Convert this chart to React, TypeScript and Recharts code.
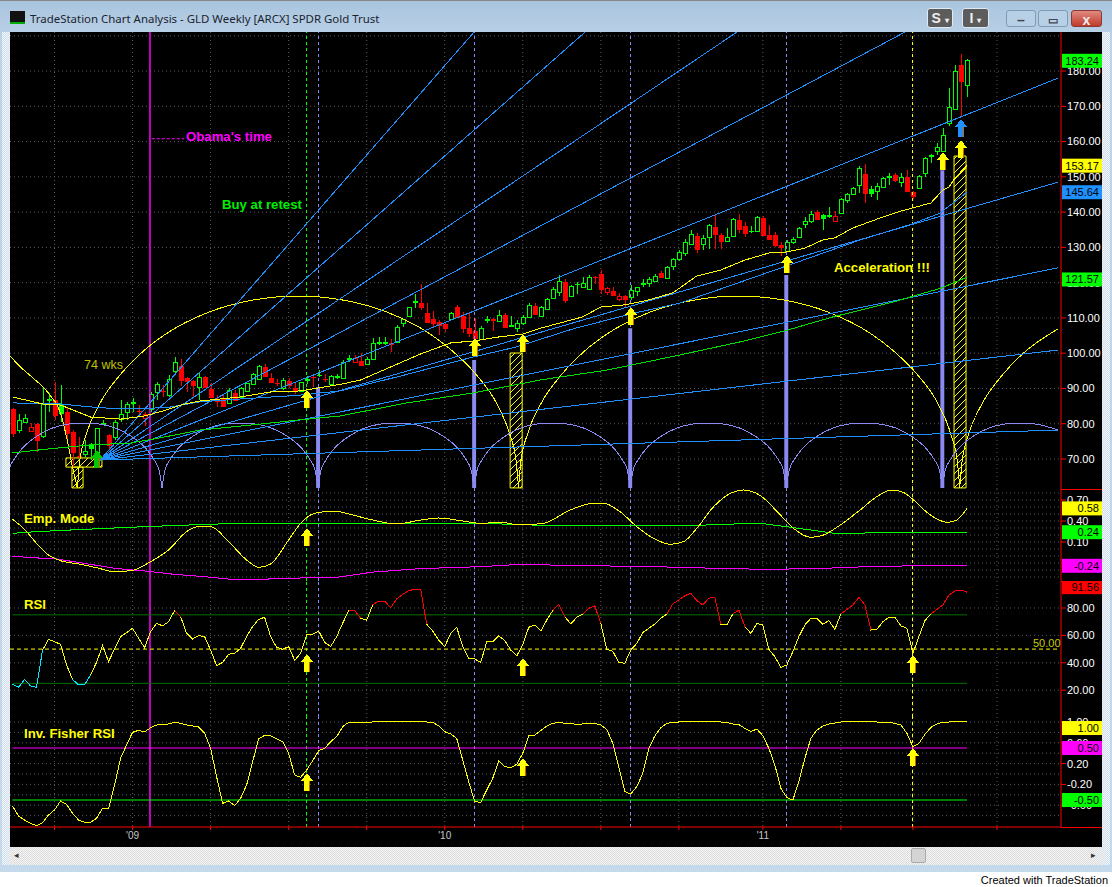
import { ComposedChart, Bar, Line, Scatter, XAxis, YAxis, CartesianGrid, ReferenceLine, ReferenceArea, ReferenceDot } from 'recharts';

// GLD weekly candles
const opens = [
  84.4, 78.2, 80.6, 77.9, 80.1, 76.6, 86.9, 86.9, 85.8, 83.6,
  77.8, 71.2, 71.3, 74.6, 71.1, 80.3, 77.1, 76.3, 81.2, 83.4,
  86.2, 83.8, 81.5, 84.1, 89.1, 89.6, 88.1, 95, 96.7, 93.3,
  92.4, 90.3, 93.5, 90.2, 86.8, 87.7, 86, 89.1, 87.5, 89.4,
  91.3, 92.8, 96.4, 93.2, 91.7, 90, 92.4, 90.3, 89.4, 92.5,
  93.6, 94, 92.9, 91.3, 93.4, 93.1, 98.6, 97.6, 98.1, 96.9,
  98.4, 103.2, 103.2, 103.3, 103.3, 108.7, 110.5, 114.6, 114.6, 111.6,
  109.9, 109.1, 108.5, 109.7, 113.4, 110.8, 107.3, 106.6, 104, 109.5,
  109.9, 109.2, 111.1, 108, 107.2, 108.7, 110.4, 113.7, 110.5, 112.5,
  115.6, 117.4, 120.5, 116.2, 119.8, 118.7, 118.2, 122, 122.6, 117.4,
  117.9, 115.5, 116.4, 115.8, 117.6, 119.7, 119.8, 120.6, 123.1, 121.2,
  124.7, 126.6, 128.3, 131, 133.5, 131, 132.9, 136.1, 133.8, 131.9,
  133.2, 138, 136.4, 135, 134.7, 138.7, 133.8, 133.8, 131, 129.1,
  131.5, 132.9, 136.6, 137.4, 140.3, 139.4, 139.1, 137.6, 139.8, 143.3,
  145, 147.6, 151.2, 146.7, 145.9, 147, 150.2, 150.8, 148.6, 150.2,
  146, 146.9, 151.2, 156.2, 157.4, 157.4, 165.4, 169.1, 182, 176,
];
const highs = [
  84.4, 82.8, 82.8, 80.1, 80.1, 90.5, 88.6, 91.9, 91, 84.8,
  78.2, 76.3, 75.4, 74.6, 78.7, 81.1, 77.1, 81.1, 86.7, 86.3,
  87.2, 85.3, 83.4, 89.1, 91.9, 91, 93.8, 98.8, 98.3, 93.3,
  92.4, 94.5, 93.5, 91.6, 88.1, 88.4, 90, 89.6, 90.3, 91.6,
  94.3, 96.7, 96.9, 94.5, 92.6, 92.9, 92.9, 91.6, 91.9, 93.6,
  93.7, 95.2, 94, 93.8, 94, 98, 99.5, 99.5, 100, 99,
  104.2, 104.5, 104.5, 103.9, 108, 109.6, 113, 116.8, 119.6, 114.1,
  112, 109.4, 108.5, 111.8, 113.7, 111.8, 111.3, 109.9, 107.7, 110.5,
  109.9, 112.2, 111.3, 110.5, 109.4, 110.8, 114.1, 114.1, 113.4, 115.6,
  118.9, 122.2, 120.9, 119.3, 120.3, 121.7, 122.2, 122, 123.6, 118.9,
  118.9, 117, 116.4, 119.3, 118.9, 120.9, 121.7, 122.5, 123.4, 124.7,
  126.9, 129.3, 132.3, 134.9, 134, 133.5, 136.6, 139.2, 134, 135.4,
  138.2, 139.5, 137.3, 136, 138.9, 138.9, 136.4, 134.5, 131.6, 132,
  132.9, 135.7, 138.7, 140.4, 140.6, 139.4, 141.4, 140.3, 143.9, 145.5,
  147, 153.1, 153.6, 147.4, 148.2, 149.9, 151, 151.2, 151, 152,
  146, 150.5, 155.5, 156.5, 159.5, 163.8, 175.1, 181.7, 184.8, 183.3,
];
const lows = [
  76.3, 77.5, 80.1, 77.8, 72.1, 75.9, 83.4, 81.1, 80.6, 75.6,
  67.8, 70.2, 70.7, 69.7, 68.8, 79.5, 72.6, 75.4, 80.6, 81,
  83.4, 82, 79.4, 83.4, 86.7, 87.5, 87.5, 93.8, 90.7, 89,
  87.5, 86.7, 90.3, 87.2, 84.8, 84.8, 85.8, 86.5, 87.2, 89.1,
  91, 92.6, 93.3, 91.8, 90.7, 89.6, 90, 88.4, 89.1, 91.4,
  90.5, 93.3, 91.9, 91, 92.6, 92.9, 97.6, 97.1, 96.7, 96.7,
  98.1, 102.3, 102.3, 100.4, 103, 107.5, 110.4, 112.7, 112.2, 108.5,
  107, 105.2, 106.1, 109.4, 110.2, 105.6, 104.7, 103, 103.7, 108.7,
  106.4, 108.9, 107.3, 107.3, 106.1, 108, 110.2, 110.8, 110.4, 112.2,
  115.3, 116.2, 114.3, 116, 116.8, 118.4, 118, 119.6, 116.8, 116.5,
  116.2, 114.9, 113, 115.1, 116.2, 118.9, 118.7, 120.3, 121.2, 121,
  123.6, 126, 127.6, 130.7, 128.5, 129.3, 129.5, 129.5, 129.5, 131.6,
  133, 134, 132.9, 134, 134.6, 133.2, 132.1, 130.2, 127.6, 128.8,
  131, 132.6, 135.4, 136.8, 138, 134.9, 138.2, 137.4, 139.7, 142.7,
  144.9, 145.3, 142.5, 144.4, 143.3, 146.7, 147.7, 148.6, 147.2, 145.8,
  143.6, 146.7, 150, 154, 156.2, 157.1, 164.4, 169, 166.9, 172.7,
];
const closes = [
  77.5, 81.1, 81.5, 79.2, 75.4, 85.6, 87, 82.5, 83.1, 77.3,
  72.1, 71.1, 72.4, 73, 78.7, 80.3, 74, 80.6, 82.7, 85.5,
  86.3, 83.7, 82.7, 88.3, 91.3, 89.5, 92.6, 97.6, 92.4, 92.1,
  91, 93.3, 90.5, 87.5, 86.7, 85, 89.6, 86.7, 90, 91.5,
  94, 96.4, 93.5, 91.8, 91.6, 92.4, 91, 89.6, 91.8, 92.6,
  93.4, 93.8, 92.8, 93.5, 93.5, 97.4, 98.7, 98.5, 96.7, 98.3,
  102.8, 103.3, 103.3, 102.6, 107.3, 109.6, 113, 114.7, 113.2, 108.9,
  108.5, 108, 107.2, 111.3, 110.4, 107, 105.8, 104.2, 107.2, 109.6,
  109.3, 110.7, 107.5, 108, 108.5, 110.2, 113.7, 111.1, 113, 115.3,
  118.1, 120.5, 115.1, 119.1, 119.5, 119.8, 121.5, 121.8, 118.1, 118.4,
  116.5, 116.2, 115.5, 117.9, 118.7, 119.8, 120.9, 121.9, 121.7, 124.3,
  126.6, 128.8, 131.6, 133.7, 129.5, 132.6, 136.3, 133.8, 131.9, 133,
  138, 135.1, 134.2, 134.8, 138.7, 133.5, 132.3, 130.7, 130, 131.6,
  132.3, 135.4, 137.4, 139.4, 138.1, 138.2, 139.1, 139, 143.6, 145,
  146.7, 152.4, 145.3, 145.5, 147.4, 149.6, 150.3, 149.1, 149.9, 146.1,
  144.7, 150.2, 155.3, 156.2, 158.4, 161.8, 169.9, 179.9, 177.3, 183.24,
];
// g = green candle, r = red candle
const candleColors = [
  'rggrrggrgr', 'rrggggrggg', 'grrggrggrr', 'rgrrrrgrgg',
  'ggrrrgrrgg', 'rgrggggrrg', 'gggrggggrr', 'rrrgrrrrgg',
  'rgrggggrgg', 'ggrggggrrr', 'rrrgggggrg', 'ggggrggrrg',
  'grrggrrrrg', 'ggggrggrgg', 'ggrggggrgr', 'rgggggggrg',
].join('');

const rsiValues = [
  24.5, 22.1, 27.9, 23.1, 22.1, 49.3, 57.1, 55.4, 53.5, 38.4,
  27.9, 23.8, 23.8, 31.1, 40.3, 52.5, 40.8, 50.1, 59.1, 62,
  65.2, 57.9, 51, 62.7, 68.8, 66.9, 70, 78.1, 73.7, 61.5,
  57.4, 59.8, 59.1, 49.3, 37.9, 40.3, 46.2, 46.9, 50.6, 59.1,
  66.4, 71.7, 73.2, 59.1, 51.3, 49.8, 51.8, 41.8, 46.9, 60.3,
  60.8, 63.2, 54.9, 51.8, 59.1, 68.8, 78.1, 78.1, 72.5, 71.2,
  82.2, 85.1, 85.1, 80.2, 86.6, 90, 92.7, 93.6, 93.6, 68.1,
  63.2, 56.6, 51.8, 61.5, 65.9, 51.8, 43.3, 42.8, 40.3, 55.4,
  55.4, 59.6, 56.2, 49.3, 45, 53, 65.9, 67.6, 63.2, 71.2,
  78.1, 82.7, 73.7, 68.3, 73.2, 75.6, 79.8, 81.5, 68.8, 49.8,
  48.4, 40.3, 39.6, 49.3, 54.2, 62, 65.2, 68.3, 72.5, 75.6,
  82.9, 85.8, 89, 90.7, 85.4, 82.2, 87.1, 87.8, 68.1, 67.6,
  75.6, 78.5, 66.4, 61.5, 68.8, 67.6, 49.8, 44.5, 36.7, 38.4,
  48.1, 59.1, 67.6, 72.5, 72.5, 68.1, 70.8, 64.4, 75.6, 79,
  82.2, 87.8, 82.2, 63.9, 64.4, 70, 73.2, 73.2, 66.9, 65.2,
  46.9, 59.1, 70.8, 75.6, 79, 82.2, 89.5, 92.4, 93.1, 91.56,
];
const fisherValues = [
  -0.615, -0.808, -0.885, -0.949, -0.994, -0.936, -0.788, -0.692, -0.519, -0.583,
  -0.756, -0.885, -0.929, -0.929, -0.853, -0.66, -0.66, -0.212, 0.301, 0.558,
  0.801, 0.84, 0.808, 0.891, 0.942, 0.955, 0.962, 0.994, 0.974, 0.942,
  0.923, 0.904, 0.782, 0.494, -0.051, -0.564, -0.519, -0.609, -0.468, -0.212,
  0.237, 0.673, 0.744, 0.731, 0.673, 0.622, 0.397, -0.019, -0.064, 0.077,
  0.256, 0.449, 0.494, 0.622, 0.718, 0.91, 0.994, 0.994, 0.994, 0.994,
  1, 1, 1, 1, 1, 1, 1, 1, 1, 1,
  0.994, 0.923, 0.814, 0.769, 0.686, 0.269, -0.147, -0.532, -0.545, -0.308,
  -0.083, 0.256, 0.141, 0.122, 0.186, 0.397, 0.737, 0.75, 0.833, 0.923,
  0.974, 0.994, 0.974, 0.968, 0.955, 0.962, 0.974, 0.974, 0.942, 0.859,
  0.59, 0.141, -0.34, -0.385, -0.244, 0.013, 0.494, 0.731, 0.891, 0.974,
  0.994, 1, 1, 1, 1, 1, 1, 1, 1, 0.994,
  0.962, 0.949, 0.878, 0.814, 0.865, 0.737, 0.494, 0.173, -0.276, -0.455,
  -0.5, -0.147, 0.301, 0.686, 0.846, 0.923, 0.962, 0.981, 1, 1,
  1, 1, 1, 1, 1, 0.994, 0.994, 0.974, 0.942, 0.782,
  0.526, 0.59, 0.763, 0.897, 0.962, 0.994, 1, 1, 1, 1,
];

// moving averages on the price panel, week index against price
const yellowMaWeeks = [0, 5, 8, 13, 18, 22, 25, 28, 31, 38, 43, 48, 55, 58, 63, 68, 73, 77, 81, 85, 88, 95, 98, 102, 106, 110, 114, 118, 122, 126, 129, 132, 135, 137, 140, 144, 148, 150, 153, 155, 156, 157, 159];
const yellowMaPrices = [87.6, 85.6, 85.3, 81.9, 81.3, 82.2, 83.6, 85.3, 86.4, 87.6, 89, 89.3, 91.3, 92.4, 96.1, 99.8, 102.9, 103.5, 104.6, 105.4, 107.1, 110.3, 113.1, 113.7, 115.1, 117.1, 121.9, 123.6, 126.4, 128.4, 128.7, 129.8, 132.1, 132.7, 135.5, 138, 140.3, 141.2, 142.6, 146.3, 147.1, 149.7, 153.17];
const blueMaWeeks = [0, 8, 14.6, 21.2, 26.2, 31.2, 37.9, 47.9, 54.6, 64.6, 76.7, 84, 93.4, 102.9, 111.2, 128.9, 141.2, 149.8, 154.5, 159];
const blueMaPrices = [85.9, 85.6, 84.5, 84.2, 84.7, 86.2, 87, 88.1, 89.3, 93.5, 98.9, 101.8, 106.9, 111.1, 114.2, 124.7, 132.1, 136.6, 139.7, 145.64];
const greenMaWeeks = [0, 4.6, 12.9, 19.6, 24.6, 31.2, 39.6, 47.9, 54.6, 65.7, 76.7, 87.9, 99, 111.2, 121.2, 129.2, 136.7, 146.7, 154.8, 159];
const greenMaPrices = [71.7, 72.6, 74, 74.5, 76, 78.2, 79.6, 81.1, 82.2, 85.9, 88.7, 92.4, 95.2, 99.5, 103.2, 106.6, 110.3, 114.5, 118.5, 121.57];

// speed lines all leave the October 2008 low
const fanOriginWeek = 14.6;
const fanOriginPrice = 69.7;
const fanEndWeeks = [76.9, 95.4, 120.7, 148.7, 174.2, 174.2, 174.2, 174.2, 174.2];
const fanEndPrices = [191.07, 191.07, 191.07, 191.07, 178, 148.5, 124.2, 100.9, 78.2];

// 74 week arches
const archLeftWeeks = [-0.4, 1.3, 3.4, 6.2, 8, 9.1, 10, 10.8];
const archLeftPrices = [99.2, 96.1, 93, 88.2, 83, 75.4, 67.7, 61.8];
const archStarts = [10.8, 84.3];
const archOffsets = [0, 0.4, 1.5, 3.7, 7.4, 11, 14.7, 22, 29.4, 36.75, 44.1, 51.5, 58.8, 62.5, 66.2, 69.9, 72, 73.1, 73.5];
const archPrices = [61.8, 69.4, 77.1, 85.6, 94.4, 100.6, 105.4, 111.7, 115.1, 116.2, 115.1, 111.7, 105.4, 100.6, 94.4, 85.6, 77.1, 69.4, 61.8];
const archTailWeeks = [157.8, 158.2, 159.3, 161.5, 165.2, 168.8, 174.2];
const archTailPrices = [61.8, 69.4, 77.1, 85.6, 94.4, 100.6, 106.9];

// 26 week cycle
const cycleStarts = [-1.1, 24.9, 50.9, 76.9, 102.9, 128.9];
const cycleOffsets = [0, 0.5, 1.3, 2.6, 5.2, 7.8, 10.4, 13, 15.6, 18.2, 20.8, 23.4, 24.7, 25.5, 26];
const cyclePrices = [61.8, 66.9, 69.7, 72.8, 76.5, 78.8, 79.9, 80.2, 79.9, 78.8, 76.5, 72.8, 69.7, 66.9, 61.8];
const cycleTailWeeks = [154.9, 155.4, 156.2, 157.5, 160.1, 162.7, 165.3, 167.9, 170.5, 173.1, 174.2];
const cycleTailPrices = [61.8, 66.9, 69.7, 72.8, 76.5, 78.8, 79.9, 80.2, 79.9, 78.8, 78.2];

const cycleBarWeeks = [50.9, 76.9, 102.9, 128.9, 154.9];
const cycleBarTops = [90.4, 98.1, 107.1, 122.2, 151.9];

const priceArrowWeeks = [49, 77, 85, 103, 129, 155, 158];
const priceArrowTips = [89.6, 104.3, 105.4, 113.1, 127.8, 157, 160.4];

// empirical mode panel
const empWeeks = [0, 2, 4, 6, 8, 11, 14, 17, 20, 23, 26, 29, 31, 33, 36, 39, 41, 43, 46, 48, 50, 52, 54, 56, 60, 64, 68, 71, 75, 78, 81.3, 84.6, 88.5, 92.9, 96.8, 98.5, 101.2, 104, 106.8, 109.6, 111.8, 114, 116.8, 119.6, 121.8, 124.6, 127.4, 130.1, 132.9, 135.1, 137.9, 141.2, 144, 146.5, 148.5, 150.1, 152.9, 155.7, 157.3, 159];
const empValues = [0.424, 0.281, 0.081, -0.086, -0.167, -0.214, -0.267, -0.324, -0.305, -0.181, -0.014, 0.248, 0.319, 0.319, 0.105, -0.157, -0.262, -0.214, 0.129, 0.367, 0.5, 0.533, 0.538, 0.5, 0.414, 0.357, 0.414, 0.443, 0.4, 0.367, 0.381, 0.343, 0.367, 0.557, 0.652, 0.652, 0.533, 0.319, 0.152, 0.067, 0.105, 0.295, 0.605, 0.795, 0.843, 0.762, 0.533, 0.295, 0.167, 0.2, 0.343, 0.557, 0.748, 0.843, 0.805, 0.7, 0.486, 0.381, 0.414, 0.58];
const empUpperWeeks = [0, 4, 12, 22, 31, 38, 78, 90, 113, 118, 124.6, 128, 133, 135.7, 137, 147, 159];
const empUpperValues = [0.224, 0.248, 0.281, 0.319, 0.348, 0.367, 0.367, 0.333, 0.333, 0.352, 0.367, 0.329, 0.271, 0.238, 0.224, 0.233, 0.24];
const empLowerWeeks = [0, 3, 7, 12, 17, 22, 27, 32, 36, 41, 48, 54, 60, 68, 78, 84.6, 91.8, 106.8, 119.6, 125.7, 133.5, 141, 147.4, 159];
const empLowerValues = [-0.1, -0.124, -0.138, -0.205, -0.276, -0.314, -0.362, -0.395, -0.429, -0.433, -0.414, -0.405, -0.33, -0.28, -0.252, -0.219, -0.233, -0.252, -0.281, -0.29, -0.281, -0.257, -0.243, -0.24];

const empArrowWeeks = [49];
const empArrowTips = [0.3];
const rsiArrowWeeks = [49, 85, 150];
const rsiArrowTips = [46.4, 43.5, 45.7];
const fisherArrowWeeks = [49, 85, 150];
const fisherArrowTips = [0.02, 0.31, 0.5];

const quarterWeeks = [7, 20, 33, 46, 59, 72, 85, 98, 111, 125, 138, 150, 164];
const yearLabels: Record<number, string> = { 20: "'09", 72: "'10", 125: "'11" };

const priceTicks = [70, 80, 90, 100, 110, 120, 130, 140, 150, 160, 170, 180];
const priceGrid = [70, 80, 90, 100, 110, 120, 130, 140, 150, 160, 170, 180, 190];
const empTicks = [0.7, 0.4, 0.1, -0.2];
const empGrid = [0.8, 0.7, 0.6, 0.5, 0.4, 0.3, 0.2, 0.1, 0, -0.1, -0.2, -0.3, -0.4];
const rsiTicks = [80, 60, 40, 20];
const fisherTicks = [1, 0.6, 0.2, -0.2, -0.6];
const fisherGrid = [1, 0.8, 0.6, 0.4, 0.2, 0, -0.2, -0.4, -0.6, -0.8];

const priceBadges = [
  { value: 182.9, text: '183.24', fill: '#00ff00' },
  { value: 153.17, text: '153.17', fill: '#ffff00' },
  { value: 145.64, text: '145.64', fill: '#1e90ff' },
  { value: 120.9, text: '121.57', fill: '#00ff00' },
];
const empBadges = [
  { value: 0.58, text: '0.58', fill: '#ffff00' },
  { value: 0.24, text: '0.24', fill: '#00ff00' },
  { value: -0.24, text: '-0.24', fill: '#ff00ff' },
];
const rsiBadges = [{ value: 95.2, text: '91.56', fill: '#ff0000' }];
const fisherBadges = [
  { value: 0.884, text: '1.00', fill: '#ffff00' },
  { value: 0.5, text: '0.50', fill: '#ff00ff' },
  { value: -0.5, text: '-0.50', fill: '#00ff00' },
];

const FONT = '"Liberation Sans", Arial, sans-serif';
const WEEK_DOMAIN: [number, number] = [-0.42, 174.67];
const PRICE_DOMAIN: [number, number] = [61.49, 191.07];
const EMP_DOMAIN: [number, number] = [-0.457, 0.857];
const RSI_DOMAIN: [number, number] = [0.43, 99.7];
const FISHER_DOMAIN: [number, number] = [-1.019, 1.096];
const CHART_WIDTH = 1092;
const AXIS_WIDTH = 41;
const MARGIN = { top: 0, right: 0, bottom: 0, left: 0 };
const BLUE = '#1e90ff';
const LAVENDER = '#8a8af0';
const LAST_BAR = 159;

const zip = (weeks: number[], values: number[]) => weeks.map((w, i) => ({ w, y: values[i] }));

const candleRows = opens.map((open, w) => ({
  w, open, high: highs[w], low: lows[w], close: closes[w],
  range: [lows[w], highs[w]],
  color: candleColors[w] === 'r' ? '#ff0000' : '#00ff00',
}));

// red above the 75 line, cyan at the very bottom
const rsiState = (v: number) => (v >= 75 ? 'hot' : v <= 28 ? 'cold' : 'mid');
const rsiRows = rsiValues.map((v, w) => {
  const prev = w > 0 ? rsiState(rsiValues[w - 1]) : 'mid';
  const now = rsiState(v);
  return {
    w, rsi: v,
    hot: prev === 'hot' || now === 'hot' ? v : null,
    cold: prev === 'cold' || now === 'cold' ? v : null,
  };
});
const fisherRows = fisherValues.map((v, w) => ({ w, fisher: v }));

const fanLines = fanEndWeeks.map((w, i) => [{ w: fanOriginWeek, y: fanOriginPrice }, { w, y: fanEndPrices[i] }]);
const archLines = [
  zip(archLeftWeeks, archLeftPrices),
  ...archStarts.map(s => archOffsets.map((o, i) => ({ w: s + o, y: archPrices[i] }))),
  zip(archTailWeeks, archTailPrices),
];
const cycleLines = [
  ...cycleStarts.map(s => cycleOffsets.map((o, i) => ({ w: s + o, y: cyclePrices[i] }))),
  zip(cycleTailWeeks, cycleTailPrices),
];

function CandleShape(props: any) {
  const { x, y, width, height, payload } = props;
  const { high, low, open, close, color } = payload;
  const perUnit = height / (high - low || 1);
  const cx = Math.round(x + width / 2);
  const bodyTop = Math.round(y + (high - Math.max(open, close)) * perUnit);
  const bodyBottom = Math.round(y + (high - Math.min(open, close)) * perUnit);
  const filled = close < open;
  return (
    <g shapeRendering="crispEdges">
      <line x1={cx + 0.5} x2={cx + 0.5} y1={y} y2={y + height} stroke={color} />
      <rect
        x={cx - 2 + 0.5 - (filled ? 0.5 : 0)}
        y={bodyTop + 0.5}
        width={filled ? 5 : 4}
        height={Math.max(bodyBottom - bodyTop, 1)}
        fill={filled ? color : '#000'}
        stroke={filled ? 'none' : color}
      />
    </g>
  );
}

function ArrowShape(props: any) {
  const { cx, cy, fill } = props;
  const x = Math.round(cx);
  const y = Math.round(cy);
  return (
    <g shapeRendering="crispEdges">
      <polygon points={`${x},${y} ${x + 6},${y + 8} ${x - 6},${y + 8}`} fill={fill} />
      <rect x={x - 3} y={y + 8} width={6} height={10} fill={fill} />
      <rect x={x + 2} y={y + 8} width={1} height={10} fill="#d06000" />
    </g>
  );
}

function makeBadge(text: string, fill: string) {
  return (props: any) => (
    <g>
      <rect x={props.cx + 1} y={props.cy - 7} width={40} height={14} fill={fill} />
      <text x={props.cx + 38} y={props.cy + 4} textAnchor="end" fontFamily={FONT} fontSize={11} fill="#000">{text}</text>
    </g>
  );
}

// badges go on a second svg so that they cover the axis labels, as in the original
function BadgeOverlay({ height, domain, badges, bottom = 0 }: any) {
  return (
    <div style={{ position: 'absolute', left: 0, top: 0 }}>
      <ComposedChart
        width={CHART_WIDTH}
        height={height}
        data={[{ w: 0 }]}
        margin={{ top: 0, right: AXIS_WIDTH, bottom, left: 0 }}
        style={{ display: 'block' }}
      >
        <XAxis dataKey="w" type="number" domain={WEEK_DOMAIN} allowDataOverflow hide />
        <YAxis type="number" domain={domain} allowDataOverflow hide />
        {badges.map((b: any) => (
          <ReferenceDot key={b.text} x={WEEK_DOMAIN[1]} y={b.value} ifOverflow="visible" shape={makeBadge(b.text, b.fill)} />
        ))}
      </ComposedChart>
    </div>
  );
}

function verticals() {
  const dashed = (w: number, stroke: string) => (
    <ReferenceLine key={w} x={w} stroke={stroke} strokeDasharray="3 3" shapeRendering="crispEdges" />
  );
  return [
    <ReferenceLine key="obama" x={22.9} stroke="#ff00ff" strokeWidth={1.5} />,
    dashed(48.9, '#00ff00'),
    dashed(50.9, LAVENDER),
    dashed(76.9, LAVENDER),
    dashed(102.9, LAVENDER),
    dashed(128.9, LAVENDER),
    dashed(149.9, '#ffff00'),
  ];
}

function grid(horizontal: number[]) {
  return (
    <CartesianGrid stroke="#5a5a5a" strokeDasharray="1 3" horizontalValues={horizontal} verticalValues={quarterWeeks} />
  );
}

function hiddenX() {
  return <XAxis dataKey="w" type="number" domain={WEEK_DOMAIN} allowDataOverflow hide />;
}

function valueAxis(domain: [number, number], ticks: number[]) {
  return (
    <YAxis
      orientation="right"
      type="number"
      width={AXIS_WIDTH}
      domain={domain}
      allowDataOverflow
      ticks={ticks}
      interval={0}
      tickSize={5}
      tickMargin={1}
      axisLine={{ stroke: '#ff0000' }}
      tickLine={{ stroke: '#ff0000' }}
      tick={{ fill: '#ffffff', fontSize: 11, fontFamily: FONT }}
      tickFormatter={(v: number) => v.toFixed(2)}
    />
  );
}

function thinLine(key: string, data: any[], stroke: string, type: any = 'linear') {
  return (
    <Line
      key={key}
      data={data}
      dataKey="y"
      type={type}
      stroke={stroke}
      strokeWidth={1}
      shapeRendering="crispEdges"
      dot={false}
      activeDot={false}
      legendType="none"
      isAnimationActive={false}
    />
  );
}

function seriesLine(dataKey: string, stroke: string) {
  return (
    <Line dataKey={dataKey} stroke={stroke} strokeWidth={1} shapeRendering="crispEdges" dot={false} activeDot={false} isAnimationActive={false} />
  );
}

function arrows(key: string, weeks: number[], tips: number[], fill: string) {
  return (
    <Scatter key={key} data={zip(weeks, tips)} dataKey="y" fill={fill} shape={ArrowShape} isAnimationActive={false} />
  );
}

function PriceChart() {
  return (
    <ComposedChart width={CHART_WIDTH} height={457} data={candleRows} margin={MARGIN} style={{ display: 'block' }}>
      <defs>
        <pattern id="hatch" width="7" height="7" patternUnits="userSpaceOnUse">
          <path d="M-1,8 L8,-1 M-1,1 L1,-1 M6,8 L8,6" stroke="#ffff00" strokeWidth="1" />
        </pattern>
      </defs>
      {grid(priceGrid)}
      {hiddenX()}
      {valueAxis(PRICE_DOMAIN, priceTicks)}
      {verticals()}
      {archLines.map((d, i) => thinLine(`arch-${i}`, d, '#ffff00', 'monotone'))}
      {cycleLines.map((d, i) => thinLine(`cycle-${i}`, d, LAVENDER, 'monotone'))}
      {fanLines.map((d, i) => thinLine(`fan-${i}`, d, BLUE))}
      {thinLine('ma-blue', zip(blueMaWeeks, blueMaPrices), BLUE)}
      {thinLine('ma-green', zip(greenMaWeeks, greenMaPrices), '#00e000')}
      {thinLine('ma-yellow', zip(yellowMaWeeks, yellowMaPrices), '#ffff00')}
      <ReferenceArea x1={9.9} x2={11.75} y1={61.8} y2={67.7} fill="url(#hatch)" fillOpacity={1} stroke="#ffff00" />
      <ReferenceArea x1={8.9} x2={14.9} y1={67.7} y2={70.3} fill="url(#hatch)" fillOpacity={1} stroke="#ffff00" />
      <ReferenceArea x1={82.9} x2={84.9} y1={61.8} y2={100.05} fill="url(#hatch)" fillOpacity={1} stroke="#ffff00" />
      <ReferenceArea x1={156.85} x2={158.85} y1={61.8} y2={155.9} fill="url(#hatch)" fillOpacity={1} stroke="#ffff00" />
      {cycleBarWeeks.map((w, i) => (
        <ReferenceArea key={w} x1={w - 0.33} x2={w + 0.33} y1={61.8} y2={cycleBarTops[i]} fill={LAVENDER} fillOpacity={1} stroke="none" />
      ))}
      <Bar dataKey="range" barSize={5} shape={CandleShape} isAnimationActive={false} />
      {arrows('price-arrows', priceArrowWeeks, priceArrowTips, '#ffff00')}
      {arrows('blue-arrow', [158], [166.4], BLUE)}
      {arrows('green-arrow', [14], [72.6], '#00c800')}
      <ReferenceLine segment={[{ x: 23.2, y: 160.8 }, { x: 28.6, y: 160.8 }]} stroke="#ff00ff" strokeDasharray="3 2" />
    </ComposedChart>
  );
}

function EmpChart() {
  return (
    <ComposedChart width={CHART_WIDTH} height={92} data={candleRows} margin={MARGIN} style={{ display: 'block' }}>
      {grid(empGrid)}
      {hiddenX()}
      {valueAxis(EMP_DOMAIN, empTicks)}
      {verticals()}
      {thinLine('emp-upper', zip(empUpperWeeks, empUpperValues), '#00ff00')}
      {thinLine('emp-lower', zip(empLowerWeeks, empLowerValues), '#ff00ff')}
      {thinLine('emp', zip(empWeeks, empValues), '#ffff00', 'monotone')}
      {arrows('emp-arrows', empArrowWeeks, empArrowTips, '#ffff00')}
    </ComposedChart>
  );
}

function RsiChart() {
  return (
    <ComposedChart width={CHART_WIDTH} height={136} data={rsiRows} margin={MARGIN} style={{ display: 'block' }}>
      {grid(rsiTicks)}
      {hiddenX()}
      {valueAxis(RSI_DOMAIN, rsiTicks)}
      {verticals()}
      <ReferenceLine segment={[{ x: 0, y: 75 }, { x: LAST_BAR, y: 75 }]} stroke="#007000" />
      <ReferenceLine segment={[{ x: 0, y: 25 }, { x: LAST_BAR, y: 25 }]} stroke="#007000" />
      <ReferenceLine segment={[{ x: -0.42, y: 50 }, { x: 174.2, y: 50 }]} stroke="#ffff00" strokeDasharray="4 3" />
      {seriesLine('rsi', '#ffff00')}
      {seriesLine('hot', '#ff0000')}
      {seriesLine('cold', '#00e8ff')}
      {arrows('rsi-arrows', rsiArrowWeeks, rsiArrowTips, '#ffff00')}
    </ComposedChart>
  );
}

function FisherChart() {
  return (
    <ComposedChart width={CHART_WIDTH} height={130} data={fisherRows} margin={MARGIN} style={{ display: 'block' }}>
      {grid(fisherGrid)}
      <XAxis
        dataKey="w"
        type="number"
        domain={WEEK_DOMAIN}
        allowDataOverflow
        height={20}
        ticks={quarterWeeks}
        interval={0}
        tickSize={3}
        axisLine={{ stroke: '#ff0000' }}
        tickLine={{ stroke: '#ff0000' }}
        tick={{ fill: '#c8c8c8', fontSize: 10, fontFamily: FONT }}
        tickFormatter={(v: number) => yearLabels[v] ?? ''}
      />
      {valueAxis(FISHER_DOMAIN, fisherTicks)}
      {verticals()}
      <ReferenceLine segment={[{ x: 0, y: 0.5 }, { x: LAST_BAR, y: 0.5 }]} stroke="#ff00ff" />
      <ReferenceLine segment={[{ x: 0, y: -0.5 }, { x: LAST_BAR, y: -0.5 }]} stroke="#00ff00" />
      {seriesLine('fisher', '#ffff00')}
      {arrows('fisher-arrows', fisherArrowWeeks, fisherArrowTips, '#ffff00')}
    </ComposedChart>
  );
}

const dither = (a: string, b: string) => `repeating-conic-gradient(${a} 0 25%, ${b} 0 50%) 0 0 / 2px 2px`;

function Note({ x, y, color, size = 13.2, bold = true, children }: any) {
  return (
    <div style={{ position: 'absolute', left: x, top: y, color, fontFamily: FONT, fontSize: size, fontWeight: bold ? 700 : 400, lineHeight: '16px', whiteSpace: 'nowrap' }}>
      {children}
    </div>
  );
}

function Box({ x, y, w, h, bg, style, children }: any) {
  return (
    <div style={{ position: 'absolute', left: x, top: y, width: w, height: h, background: bg, ...style }}>{children}</div>
  );
}

const capButton = { borderRadius: 3, border: '1px solid #dfeaf5', boxSizing: 'border-box' as const, color: '#eee', textAlign: 'center' as const, fontFamily: FONT, fontWeight: 700, fontSize: 14, lineHeight: '18px' };

export default function App() {
  return (
    <div style={{ position: 'absolute', left: 0, top: 0, width: 1112, height: 887, background: '#fff', overflow: 'hidden' }}>
      {/* window frame */}
      <Box x={0} y={0} w={1112} h={872} bg="linear-gradient(#a9c4de, #bcd3e8 40px, #c4d9ec)" style={{ borderTop: '1px solid #888', boxSizing: 'border-box' }} />
      <Box x={2} y={32} w={8} h={833} bg={dither('#cfdfec', '#f2f6fa')} />
      <Box x={1102} y={32} w={8} h={833} bg={dither('#cfdfec', '#f2f6fa')} />
      <Box x={10} y={11} w={15} h={13} bg="#111" style={{ borderBottom: '2px solid #0a0', boxSizing: 'border-box' }} />
      <div style={{ position: 'absolute', left: 30, top: 10, fontFamily: '"Noto Sans", sans-serif', fontSize: 11.45, lineHeight: '17px', color: '#1a2430', whiteSpace: 'nowrap' }}>
        TradeStation Chart Analysis - GLD Weekly [ARCX] SPDR Gold Trust
      </div>
      <Box x={927} y={8} w={26} h={20} bg="#5c5c5c" style={capButton}>S <span style={{ fontSize: 8 }}>▾</span></Box>
      <Box x={962} y={8} w={27} h={20} bg="#5c5c5c" style={capButton}>I <span style={{ fontSize: 8 }}>▾</span></Box>
      <Box x={1006} y={10} w={30} h={17} bg="#b7d0e6" style={{ ...capButton, color: '#445', border: '1px solid #7f9bb5' }}>–</Box>
      <Box x={1038} y={10} w={30} h={17} bg="#b7d0e6" style={{ ...capButton, color: '#445', border: '1px solid #7f9bb5', fontSize: 11 }}>▭</Box>
      <Box x={1071} y={10} w={31} h={17} bg="linear-gradient(#e08a80, #c0392b)" style={{ ...capButton, border: '1px solid #8a3a33' }}>x</Box>

      {/* chart panels */}
      <Box x={10} y={32} w={1092} h={815} bg="#000">
        <div style={{ position: 'relative' }}>
          <PriceChart />
          <BadgeOverlay height={457} domain={PRICE_DOMAIN} badges={priceBadges} />
        </div>
        <div style={{ position: 'relative' }}>
          <EmpChart />
          <BadgeOverlay height={92} domain={EMP_DOMAIN} badges={empBadges} />
        </div>
        <div style={{ position: 'relative' }}>
          <RsiChart />
          <BadgeOverlay height={136} domain={RSI_DOMAIN} badges={rsiBadges} />
        </div>
        <div style={{ position: 'relative' }}>
          <FisherChart />
          <BadgeOverlay height={130} bottom={20} domain={FISHER_DOMAIN} badges={fisherBadges} />
        </div>
      </Box>
      <Box x={1061} y={489} w={41} h={1} bg="#ff0000" />
      <Box x={1061} y={581} w={41} h={1} bg="#ff0000" />
      <Box x={1061} y={827} w={41} h={1} bg="#ff0000" />

      {/* scrollbar and footer */}
      <Box x={10} y={847} w={1092} h={18} bg={dither('#dcdcdc', '#f4f4f4')} />
      <Box x={911} y={848} w={15} h={15} bg="#d4d4d4" style={{ border: '1px solid #aaa', boxSizing: 'border-box', borderRadius: 2 }} />
      <div style={{ position: 'absolute', left: 14, top: 849, fontSize: 9, lineHeight: '12px', color: '#333' }}>◂</div>
      <div style={{ position: 'absolute', left: 1091, top: 849, fontSize: 9, lineHeight: '12px', color: '#333' }}>▸</div>
      <div style={{ position: 'absolute', right: 4, top: 873, fontFamily: FONT, fontSize: 11, lineHeight: '14px', color: '#000', whiteSpace: 'nowrap' }}>
        Created with TradeStation
      </div>

      {/* annotations */}
      <Note x={186} y={129} color="#ff00ff">Obama's time</Note>
      <Note x={222} y={197} color="#00ee00">Buy at retest</Note>
      <Note x={84} y={357} color="#c0c000" size={12.5} bold={false}>74 wks</Note>
      <Note x={834} y={260} color="#ffff00">Acceleration !!!</Note>
      <Note x={24} y={511} color="#ffff00">Emp. Mode</Note>
      <Note x={24} y={597} color="#ffff00">RSI</Note>
      <Note x={24} y={726} color="#ffff00">Inv. Fisher RSI</Note>
      <Note x={1033} y={635} color="#c8c800" size={11} bold={false}>50.00</Note>
    </div>
  );
}
